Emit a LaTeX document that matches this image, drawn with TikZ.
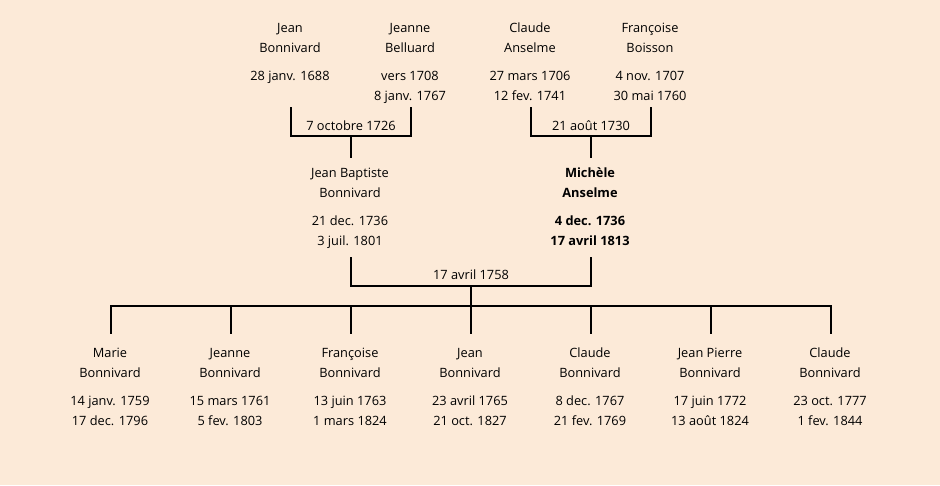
\documentclass[tikz,border=0pt]{standalone}
\usepackage{fontspec}
\setmainfont{Open Sans}
\definecolor{bg}{RGB}{252,234,216}
\begin{document}
\begin{tikzpicture}[x=1pt,y=-1pt,
  person/.style={anchor=north, inner sep=0pt, align=center, font=\fontsize{12.8}{20}\selectfont},
  lbl/.style={inner sep=0pt, font=\fontsize{12.8}{14}\selectfont},
  link/.style={line width=2pt, line cap=rect}]
\fill[bg] (0,0) rectangle (940,485);
\useasboundingbox (0,0) rectangle (940,485);
% top row
\node[person] (jean)   at (290,18) {\strut Jean\\Bonnivard\\[8pt]28 janv. 1688};
\node[person] (jeanne) at (410,18) {\strut Jeanne\\Belluard\\[8pt]vers 1708\\8 janv. 1767};
\node[person] (claude) at (530,18) {\strut Claude\\Anselme\\[8pt]27 mars 1706\\12 fev. 1741};
\node[person] (franc)  at (650,18) {\strut Françoise\\Boisson\\[8pt]4 nov. 1707\\30 mai 1760};
\coordinate (jean-b)   at (291,108);
\coordinate (jeanne-b) at (411,108);
\coordinate (claude-b) at (531,108);
\coordinate (franc-b)  at (651,108);
\coordinate (m1) at (351,136);
\coordinate (m2) at (591,136);
\node[lbl] (m1l) at (351,126) {7 octobre 1726};
\node[lbl] (m2l) at (591,126) {21 août 1730};
% middle row
\node[person] (jb)  at (350,163) {\strut Jean Baptiste\\Bonnivard\\[8pt]21 dec. 1736\\3 juil. 1801};
\node[person,font=\fontsize{12.8}{20}\selectfont\bfseries] (mich) at (590,163) {\strut Michèle\\Anselme\\[8pt]4 dec. 1736\\17 avril 1813};
\coordinate (jb-t)   at (351,157);
\coordinate (mich-t) at (591,157);
\coordinate (jb-b)   at (351,258);
\coordinate (mich-b) at (591,258);
\coordinate (m3) at (471,286);
\node[lbl] (m3l) at (471,275) {17 avril 1758};
\coordinate (kids) at (471,306);
% children
\foreach \n/\x/\a/\b/\c/\d in {
  c1/111/Marie/Bonnivard/14 janv. 1759/17 dec. 1796,
  c2/231/Jeanne/Bonnivard/15 mars 1761/5 fev. 1803,
  c3/351/Françoise/Bonnivard/13 juin 1763/1 mars 1824,
  c4/471/Jean/Bonnivard/23 avril 1765/21 oct. 1827,
  c5/591/Claude/Bonnivard/8 dec. 1767/21 fev. 1769,
  c6/711/Jean Pierre/Bonnivard/17 juin 1772/13 août 1824,
  c7/831/Claude/Bonnivard/23 oct. 1777/1 fev. 1844}{
  \node[person] (\n) at (\x-1,343) {\strut\a\\\b\\[8pt]\c\\\d};
  \coordinate (\n-t) at (\x,333);
}
% connectors
\draw[link] (jean-b) |- (m1) -| (jeanne-b);
\draw[link] (m1) -- (jb-t);
\draw[link] (claude-b) |- (m2) -| (franc-b);
\draw[link] (m2) -- (mich-t);
\draw[link] (jb-b) |- (m3) -| (mich-b);
\draw[link] (m3) -- (kids);
\draw[link] (c1-t) |- (kids) -| (c7-t);
\foreach \n in {c2,c3,c4,c5,c6}{
  \draw[link] (kids -| \n-t) -- (\n-t);
}
\end{tikzpicture}
\end{document}
